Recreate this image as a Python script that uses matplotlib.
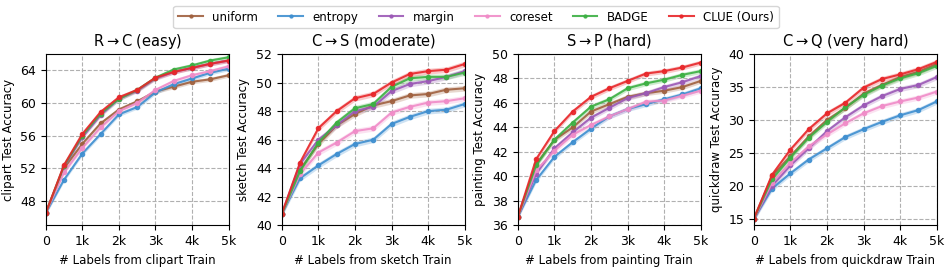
import numpy as np
import matplotlib.pyplot as plt

x = np.arange(0, 5001, 500)

methods = ["uniform", "entropy", "margin", "coreset", "BADGE", "CLUE (Ours)"]
colors = ["#a0613f", "#3f8fd0", "#9b59b6", "#f08cc8", "#3cb043", "#e8272a"]

titles = [r"R$\rightarrow$C (easy)", r"C$\rightarrow$S (moderate)",
          r"S$\rightarrow$P (hard)", r"C$\rightarrow$Q (very hard)"]
domains = ["clipart", "sketch", "painting", "quickdraw"]
ylims = [(45, 66), (40, 52), (36, 50), (14, 40)]
yticks = [[48, 52, 56, 60, 64], [40, 42, 44, 46, 48, 50, 52],
          [36, 38, 40, 42, 44, 46, 48, 50], [15, 20, 25, 30, 35, 40]]

# R->C
rc_uniform = [46.5, 52.0, 55.0, 57.5, 59.2, 60.2, 61.4, 62.0, 62.6, 62.9, 63.4]
rc_entropy = [46.5, 50.6, 53.8, 56.2, 58.6, 59.5, 61.3, 62.3, 63.0, 63.7, 64.2]
rc_margin = [46.5, 52.2, 55.8, 58.5, 60.5, 61.5, 63.0, 63.8, 64.3, 64.8, 65.2]
rc_coreset = [46.5, 51.5, 54.5, 57.0, 59.0, 60.0, 61.6, 62.7, 63.4, 63.9, 64.5]
rc_badge = [46.5, 52.3, 56.0, 58.7, 60.5, 61.6, 63.1, 64.1, 64.6, 65.2, 65.6]
rc_clue = [46.5, 52.4, 56.2, 58.9, 60.7, 61.6, 63.1, 63.8, 64.3, 64.8, 65.2]

# C->S
cs_uniform = [40.8, 43.9, 45.7, 47.0, 47.8, 48.4, 48.7, 49.1, 49.2, 49.5, 49.6]
cs_entropy = [40.8, 43.3, 44.2, 45.0, 45.7, 46.0, 47.1, 47.6, 48.0, 48.1, 48.5]
cs_margin = [40.8, 44.3, 46.0, 47.0, 48.0, 48.3, 49.4, 49.9, 50.1, 50.4, 50.8]
cs_coreset = [40.8, 43.6, 45.1, 45.8, 46.6, 46.8, 47.9, 48.3, 48.6, 48.7, 48.9]
cs_badge = [40.8, 43.8, 45.8, 47.2, 48.2, 48.5, 49.7, 50.3, 50.4, 50.4, 50.7]
cs_clue = [40.8, 44.4, 46.8, 48.0, 48.9, 49.2, 50.0, 50.6, 50.8, 50.9, 51.3]

# S->P
sp_uniform = [36.7, 41.0, 43.0, 44.0, 45.3, 45.9, 46.5, 46.8, 47.0, 47.3, 47.8]
sp_entropy = [36.7, 39.7, 41.6, 42.8, 43.9, 44.9, 45.5, 45.9, 46.3, 46.7, 47.2]
sp_margin = [36.7, 40.2, 42.3, 43.6, 44.8, 45.6, 46.4, 46.8, 47.3, 47.7, 48.2]
sp_coreset = [36.7, 40.5, 42.1, 43.4, 44.2, 44.9, 45.5, 46.1, 46.2, 46.6, 47.0]
sp_badge = [36.7, 40.9, 43.0, 44.4, 45.7, 46.3, 47.2, 47.6, 47.9, 48.3, 48.6]
sp_clue = [36.7, 41.4, 43.7, 45.3, 46.5, 47.2, 47.8, 48.4, 48.6, 48.9, 49.3]

# C->Q
cq_uniform = [15.0, 21.5, 24.5, 27.5, 30.0, 31.8, 34.0, 35.3, 36.5, 37.3, 38.5]
cq_entropy = [15.0, 19.6, 21.9, 24.0, 25.7, 27.4, 28.6, 29.7, 30.7, 31.5, 32.8]
cq_margin = [15.0, 20.0, 23.1, 25.7, 28.3, 30.4, 32.2, 33.6, 34.7, 35.3, 36.5]
cq_coreset = [15.0, 20.5, 23.5, 26.0, 27.8, 29.5, 31.0, 32.1, 32.8, 33.4, 34.3]
cq_badge = [15.0, 21.0, 24.3, 27.3, 29.7, 31.9, 33.8, 35.2, 36.3, 37.1, 38.2]
cq_clue = [15.0, 21.7, 25.5, 28.6, 31.0, 32.6, 34.9, 36.2, 36.9, 37.7, 38.8]

panels = [
    [rc_uniform, rc_entropy, rc_margin, rc_coreset, rc_badge, rc_clue],
    [cs_uniform, cs_entropy, cs_margin, cs_coreset, cs_badge, cs_clue],
    [sp_uniform, sp_entropy, sp_margin, sp_coreset, sp_badge, sp_clue],
    [cq_uniform, cq_entropy, cq_margin, cq_coreset, cq_badge, cq_clue],
]
band = [0.25, 0.2, 0.2, 0.4]

fig, axes = plt.subplots(1, 4, figsize=(9.52, 2.7), dpi=100)
fig.subplots_adjust(left=0.048, right=0.984, bottom=0.165, top=0.8, wspace=0.29)

for i, ax in enumerate(axes):
    for j, series in enumerate(panels[i]):
        y = np.array(series)
        ax.fill_between(x, y - band[i], y + band[i], color=colors[j], alpha=0.25, lw=0)
        ax.plot(x, y, color=colors[j], marker="o", ms=3, lw=1.5, alpha=0.9,
                label=methods[j])
    ax.set_xlim(0, 5000)
    ax.set_ylim(*ylims[i])
    ax.set_yticks(yticks[i])
    ax.set_xticks([0, 1000, 2000, 3000, 4000, 5000])
    ax.set_xticklabels(["0", "1k", "2k", "3k", "4k", "5k"])
    ax.grid(True, ls="--", color="#b0b0b0", lw=0.8)
    ax.tick_params(labelsize=9)
    ax.set_title(titles[i], fontsize=10.5)
    ax.set_xlabel("# Labels from %s Train" % domains[i], fontsize=8.5)
    ax.set_ylabel("%s Test Accuracy" % domains[i], fontsize=8.5)

handles, labels = axes[0].get_legend_handles_labels()
fig.legend(handles, labels, loc="upper center", ncol=6, fontsize=8.5,
           bbox_to_anchor=(0.5, 1.0), handlelength=2.1, columnspacing=1.7,
           borderpad=0.4, markerscale=0.7)

fig.savefig("out.png", dpi=100)
